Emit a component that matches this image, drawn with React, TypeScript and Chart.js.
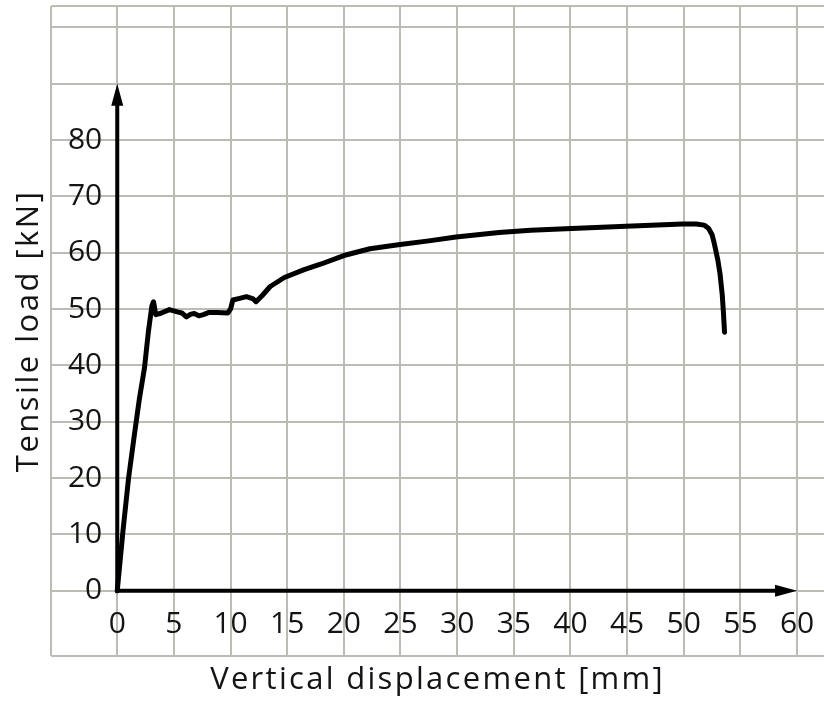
import React, { useEffect, useRef } from "react";
import { Chart, registerables } from "chart.js";

Chart.register(...registerables);

// Curve: vertical displacement [mm] vs tensile load [kN]
const DISPLACEMENT = [
  0, 0.5, 1.0, 1.5, 1.95, 2.4, 2.75, 3.05, 3.2, 3.4, 3.9, 4.6, 5.3, 5.7, 6.1, 6.5,
  6.8, 7.2, 7.6, 8.1, 8.8, 9.75, 10.0, 10.2, 10.8, 11.4, 12.0, 12.25, 12.8, 13.5,
  14.75, 16.5, 18.0, 20.0, 22.3, 24.8, 27.5, 29.9, 33.7, 36.5, 40.1, 44.9, 49.9,
  51.1, 51.8, 52.2, 52.5, 52.7, 53.0, 53.2, 53.4, 53.5, 53.6,
];
const LOAD = [
  0, 10.5, 20, 27.5, 34, 39.5, 46, 50.5, 51.3, 49.0, 49.3, 49.9, 49.5, 49.3, 48.6,
  49.1, 49.2, 48.8, 49.0, 49.4, 49.4, 49.3, 50.0, 51.6, 51.9, 52.2, 51.8, 51.3,
  52.4, 54.0, 55.6, 57.0, 58.0, 59.5, 60.7, 61.4, 62.1, 62.8, 63.6, 64.0, 64.3,
  64.7, 65.1, 65.1, 64.9, 64.3, 63.2, 61.6, 58.8, 56.3, 52.5, 49.5, 45.9,
];

// Axis ranges, grid and labels
const X_MIN = -5.83;
const X_MAX = 62.38;
const Y_MIN = -11.56;
const Y_MAX = 103.8;
const X_GRID = [X_MIN, 0, 5, 10, 15, 20, 25, 30, 35, 40, 45, 50, 55, 60];
const Y_GRID = [Y_MIN, 0, 10, 20, 30, 40, 50, 60, 70, 80, 90, 100, Y_MAX];
const X_LABELS = [0, 5, 10, 15, 20, 25, 30, 35, 40, 45, 50, 55, 60];
const Y_LABELS = [0, 10, 20, 30, 40, 50, 60, 70, 80];
const X_AXIS_END = 60;
const Y_AXIS_END = 90;
const Y_LABEL_AT = -1.33; // x value where the y tick labels end
const X_TITLE = "Vertical displacement [mm]";
const Y_TITLE = "Tensile load [kN]";

const FONT = "'Open Sans', 'Noto Sans', sans-serif";
const GRID_COLOR = "#bcbcb4";
const INK = "#141414";

const zeroPadding = (axis: any) => {
  axis.paddingTop = 0;
  axis.paddingBottom = 0;
  axis.paddingLeft = 0;
  axis.paddingRight = 0;
};

const spacedTitle = (spacing: string) => (axis: any) => {
  if (axis.__spaced) return;
  axis.__spaced = true;
  const orig = axis.drawTitle.bind(axis);
  axis.drawTitle = function () {
    const c = this.ctx;
    c.save();
    c.letterSpacing = spacing;
    orig();
    c.restore();
  };
};

const axesPlugin = {
  id: "arrowAxes",
  beforeDatasetsDraw(chart: any) {
    const xs = chart.scales.x;
    const ys = chart.scales.y;
    const ctx = chart.ctx;
    const x0 = xs.getPixelForValue(0);
    const y0 = ys.getPixelForValue(0);
    const xe = xs.getPixelForValue(X_AXIS_END);
    const ye = ys.getPixelForValue(Y_AXIS_END);
    const headLen = 22;
    const headHalf = 6;
    ctx.save();
    ctx.strokeStyle = "#000";
    ctx.fillStyle = "#000";
    ctx.lineWidth = 4;
    ctx.lineCap = "butt";
    ctx.beginPath();
    ctx.moveTo(x0, y0 + 2);
    ctx.lineTo(x0, ye + headLen - 2);
    ctx.moveTo(x0 - 2, y0);
    ctx.lineTo(xe - headLen + 2, y0);
    ctx.stroke();
    ctx.beginPath();
    ctx.moveTo(x0, ye);
    ctx.lineTo(x0 + headHalf, ye + headLen);
    ctx.lineTo(x0 - headHalf, ye + headLen);
    ctx.closePath();
    ctx.fill();
    ctx.beginPath();
    ctx.moveTo(xe, y0);
    ctx.lineTo(xe - headLen, y0 - headHalf);
    ctx.lineTo(xe - headLen, y0 + headHalf);
    ctx.closePath();
    ctx.fill();
    ctx.restore();
  },
};

export default function App() {
  const ref = useRef<HTMLCanvasElement | null>(null);

  useEffect(() => {
    if (!ref.current) return;
    const data = DISPLACEMENT.map((x, i) => ({ x, y: LOAD[i] }));
    const chart = new Chart(ref.current, {
      type: "line",
      data: {
        datasets: [
          {
            data,
            borderColor: "#000",
            borderWidth: 5,
            pointRadius: 0,
            tension: 0,
            fill: false,
            borderCapStyle: "round",
            borderJoinStyle: "round",
          },
        ],
      },
      options: {
        animation: false,
        responsive: true,
        maintainAspectRatio: false,
        layout: { padding: { left: 7, top: 6, right: 0, bottom: 2 } },
        plugins: { legend: { display: false }, tooltip: { enabled: false } },
        scales: {
          x: {
            type: "linear",
            min: X_MIN,
            max: X_MAX,
            position: { y: 0 } as any,
            afterBuildTicks: (axis: any) => {
              axis.ticks = X_GRID.map((v) => ({ value: v }));
            },
            afterFit: zeroPadding,
            grid: { color: GRID_COLOR, lineWidth: 2, drawTicks: false },
            border: { display: false },
            ticks: {
              autoSkip: false,
              maxRotation: 0,
              padding: 16,
              color: INK,
              font: { family: FONT, size: 30 },
              callback: (v: any) => (X_LABELS.includes(Number(v)) ? String(v) : ""),
            },
          },
          y: {
            type: "linear",
            min: Y_MIN,
            max: Y_MAX,
            position: { x: Y_LABEL_AT } as any,
            afterBuildTicks: (axis: any) => {
              axis.ticks = Y_GRID.map((v) => ({ value: v }));
            },
            afterFit: zeroPadding,
            grid: { color: GRID_COLOR, lineWidth: 2, drawTicks: false },
            border: { display: false },
            ticks: {
              autoSkip: false,
              padding: 0,
              color: INK,
              font: { family: FONT, size: 30 },
              callback: (v: any) => (Y_LABELS.includes(Number(v)) ? String(v) : ""),
            },
          },
          xTitle: {
            type: "linear",
            axis: "x",
            position: "bottom",
            afterUpdate: spacedTitle("2.3px"),
            grid: { display: false, drawTicks: false },
            border: { display: false },
            ticks: { display: false },
            title: {
              display: true,
              text: X_TITLE,
              color: INK,
              font: { family: FONT, size: 31 },
              padding: { top: 6, bottom: 3 },
            },
          },
          yTitle: {
            type: "linear",
            axis: "y",
            position: "left",
            afterUpdate: spacedTitle("2.5px"),
            grid: { display: false, drawTicks: false },
            border: { display: false },
            ticks: { display: false },
            title: {
              display: true,
              text: Y_TITLE,
              color: INK,
              font: { family: FONT, size: 31 },
              padding: { top: 4, bottom: 3 },
            },
          },
        },
      },
      plugins: [axesPlugin],
    });
    return () => chart.destroy();
  }, []);

  return (
    <div
      style={{
        position: "fixed",
        left: 0,
        top: 0,
        width: 824,
        height: 704,
        background: "#fff",
      }}
    >
      <canvas ref={ref} />
    </div>
  );
}
